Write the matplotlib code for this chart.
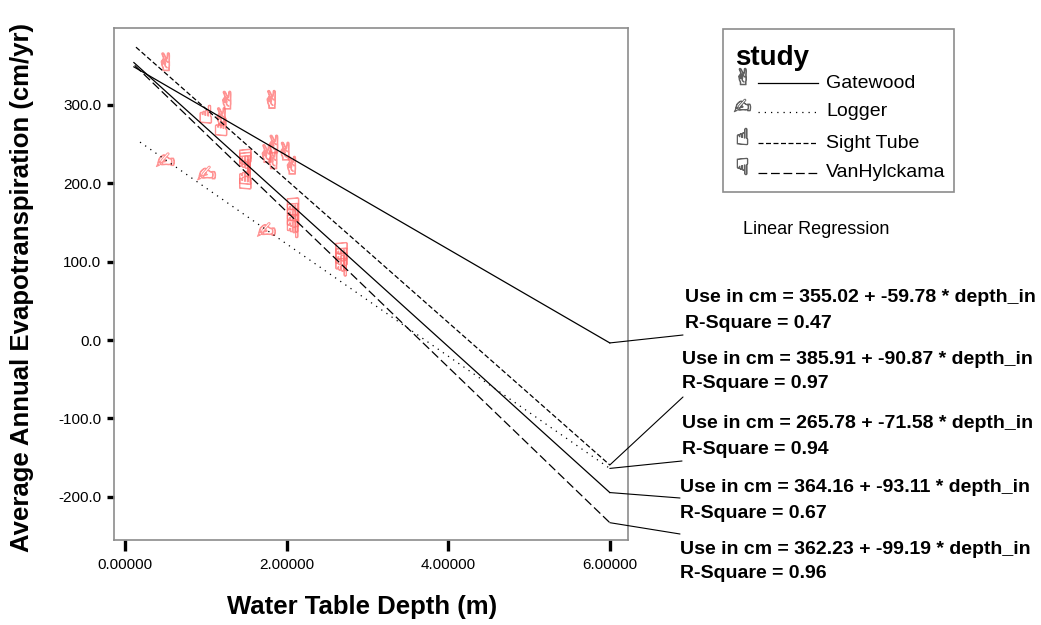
import matplotlib
matplotlib.use("Agg")
import matplotlib.pyplot as plt
import numpy as np
from matplotlib.lines import Line2D
from matplotlib.patches import Rectangle

plt.rcParams['font.family'] = ['Liberation Sans', 'DejaVu Sans']

W, H = 1041, 625

# ---------------------------------------------------------------------------- #
# scatter points (depth in m, ET in cm/yr)
studies = ['Gatewood', 'Logger', 'Sight Tube', 'VanHylckama']
glyphs = ['$\u270C$', '$\u270D$', '$\u261D$', '$\u261F$']

gatewood_x = [0.50, 1.26, 1.81, 1.19, 1.84, 1.98, 1.83, 2.06, 1.75]
gatewood_y = [355, 306, 307, 285, 250, 241, 230, 223, 238]
logger_x = [0.50, 1.01, 1.75]
logger_y = [230, 213, 141]
sight_x = [1.00, 1.19, 1.49, 1.49]
sight_y = [288, 272, 204, 210]
vanh_x = [1.49, 1.49, 1.49, 2.08, 2.08, 2.08, 2.08, 2.08, 2.68, 2.68, 2.68, 2.68]
vanh_y = [232, 228, 224, 170, 163, 156, 149, 142, 113, 106, 100, 93]

points_x = [gatewood_x, logger_x, sight_x, vanh_x]
points_y = [gatewood_y, logger_y, sight_y, vanh_y]

# regression fits in label order (intercept, slope, r2, x range)
fit_names = ['Gatewood', 'Sight Tube', 'Logger', 'Total', 'VanHylckama']
fit_b0 = [355.02, 385.91, 265.78, 364.16, 362.23]
fit_b1 = [-59.78, -90.87, -71.58, -93.11, -99.19]
fit_r2 = [0.47, 0.97, 0.94, 0.67, 0.96]
fit_xmin = [0.11, 0.136, 0.186, 0.11, 0.12]
fit_xmax = [6.0, 6.0, 6.0, 6.0, 6.0]

x_ticks = [0, 2, 4, 6]
y_ticks = [-200, -100, 0, 100, 200, 300]

# ---------------------------------------------------------------------------- #
line_styles = {
    'Gatewood': '-',
    'Total': '-',
    'Logger': (0, (1, 4)),
    'Sight Tube': (0, (4, 2)),
    'VanHylckama': (0, (7, 3)),
}


def px(x, y):
    """image pixel -> figure fraction"""
    return x / W, 1 - y / H


fig = plt.figure(figsize=(W / 100, H / 100), dpi=100)
l, b = px(114, 540)
r, t = px(628, 28)
ax = fig.add_axes([l, b, r - l, t - b])

for i, s in enumerate(studies):
    ax.scatter(points_x[i], points_y[i], marker=glyphs[i], s=170,
               facecolors='none', edgecolors='#ff6f6f', linewidths=0.7,
               alpha=0.75, zorder=2)

for i, name in enumerate(fit_names):
    xs = np.array([fit_xmin[i], fit_xmax[i]])
    ax.plot(xs, fit_b0[i] + fit_b1[i] * xs, color='black', lw=0.9,
            ls=line_styles[name], zorder=3)

ax.set_xlim(-0.136, 6.225)
ax.set_ylim(-255, 398)
ax.set_xticks(x_ticks)
ax.set_yticks(y_ticks)
ax.set_xticklabels([f'{v:.5f}' for v in x_ticks])
ax.set_yticklabels([f'{v:.1f}' for v in y_ticks])
ax.tick_params(axis='x', length=8, width=2.4, pad=5, labelsize=11, color='black')
ax.tick_params(axis='y', length=5, width=2.4, pad=4, labelsize=11, color='black')
for sp in ax.spines.values():
    sp.set_color('#8c8c8c')
    sp.set_linewidth(1.2)

fig.text(*px(362, 607), 'Water Table Depth (m)', ha='center', va='center',
         fontsize=18.5, fontweight='bold')
fig.text(*px(22, 288), 'Average Annual Evapotranspiration (cm/yr)', ha='center',
         va='center', rotation=90, fontsize=18.5, fontweight='bold')

# labels with leader lines
label_pos = [(685, 298), (682, 359), (682, 424), (680, 488), (680, 549)]
leader_end = [(683, 335), (683, 397), (682, 461), (680, 498), (680, 534)]
for i in range(len(fit_names)):
    lx, ly = label_pos[i]
    fig.text(*px(lx, ly), f'Use in cm = {fit_b0[i]:.2f} + {fit_b1[i]:.2f} * depth_in',
             ha='left', va='center', fontsize=14, fontweight='bold')
    fig.text(*px(lx, ly + 25), f'R-Square = {fit_r2[i]:.2f}',
             ha='left', va='center', fontsize=14, fontweight='bold')
    xe = fit_xmax[i]
    ax.annotate('', xy=(xe, fit_b0[i] + fit_b1[i] * xe), xycoords='data',
                xytext=px(*leader_end[i]), textcoords='figure fraction',
                arrowprops=dict(arrowstyle='-', color='black', lw=0.8,
                                shrinkA=0, shrinkB=0),
                annotation_clip=False)

fig.text(*px(743, 230), 'Linear Regression', ha='left', va='center', fontsize=13)

# legend box drawn by hand
x0, y0 = px(723, 192)
x1, y1 = px(954, 29)
fig.patches.append(Rectangle((x0, y0), x1 - x0, y1 - y0, transform=fig.transFigure,
                             fill=False, edgecolor='#8c8c8c', lw=1.2))
fig.text(*px(735, 58), 'study', ha='left', va='center', fontsize=20, fontweight='bold')
row_y = [83, 112, 143, 173]
for i, s in enumerate(studies):
    gx, gy = px(742, row_y[i] - 7)
    fig.add_artist(Line2D([gx], [gy], marker=glyphs[i], markersize=12,
                          markerfacecolor='none', markeredgecolor='#606060',
                          markeredgewidth=0.6, transform=fig.transFigure))
    lx0, ly = px(758, row_y[i])
    lx1, _ = px(818, row_y[i])
    fig.add_artist(Line2D([lx0, lx1], [ly, ly], color='black', lw=0.9,
                          ls=line_styles[s], transform=fig.transFigure))
    fig.text(*px(826, row_y[i]), s, ha='left', va='center', fontsize=14)

fig.savefig('out.png', dpi=100)
